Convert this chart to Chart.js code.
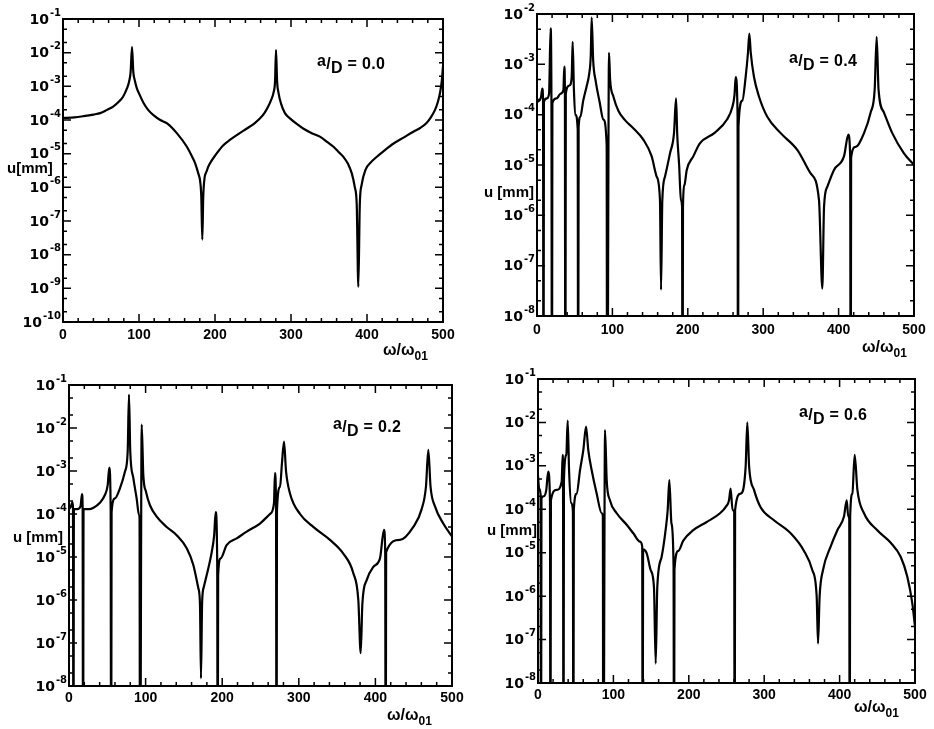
<!DOCTYPE html>
<html>
<head>
<meta charset="utf-8">
<title>Frequency response u(ω/ω01) for a/D = 0.0, 0.2, 0.4, 0.6</title>
<script src="https://cdn.jsdelivr.net/npm/chart.js@4.4.1/dist/chart.umd.min.js"></script>
<style>
  html, body { margin: 0; padding: 0; background: #fff; }
  #page { position: relative; width: 934px; height: 729px; overflow: hidden; background: #fff; }
  #page canvas { position: absolute; }
  .lab { position: absolute; font-family: "Liberation Sans", Arial, sans-serif; font-weight: bold;
         color: #000; white-space: nowrap; line-height: 1; }
  .yt { font-size: 15px; }
  .ann { font-size: 16px; letter-spacing: 0.3px; }
  .ann .fa { position: relative; top: -3px; }
  .ann .fd { position: relative; top: 4px; }
  .xt { font-size: 16px; }
  .xt .sub { font-size: 12px; position: relative; top: 5px; }
</style>
</head>
<body>
<div id="page">
  <canvas id="p00" width="467" height="365" style="left:0px;top:0px"></canvas>
  <canvas id="p04" width="467" height="365" style="left:467px;top:0px"></canvas>
  <canvas id="p02" width="480" height="364" style="left:0px;top:365px"></canvas>
  <canvas id="p06" width="467" height="364" style="left:467px;top:365px"></canvas>

  <div class="lab yt" style="left:7px;top:160px">u[mm]</div>
  <div class="lab yt" style="left:484px;top:184px">u [mm]</div>
  <div class="lab yt" style="left:13px;top:529px">u [mm]</div>
  <div class="lab yt" style="left:487px;top:522px">u [mm]</div>

  <div class="lab ann" style="left:317px;top:56px"><span class="fa">a</span>/<span class="fd">D</span> = 0.0</div>
  <div class="lab ann" style="left:789px;top:53px"><span class="fa">a</span>/<span class="fd">D</span> = 0.4</div>
  <div class="lab ann" style="left:333px;top:419px"><span class="fa">a</span>/<span class="fd">D</span> = 0.2</div>
  <div class="lab ann" style="left:799px;top:407px"><span class="fa">a</span>/<span class="fd">D</span> = 0.6</div>

  <div class="lab xt" style="left:383px;top:342px">ω/ω<span class="sub">01</span></div>
  <div class="lab xt" style="left:862px;top:339px">ω/ω<span class="sub">01</span></div>
  <div class="lab xt" style="left:387px;top:707px">ω/ω<span class="sub">01</span></div>
  <div class="lab xt" style="left:854px;top:699px">ω/ω<span class="sub">01</span></div>
</div>

<script>
// ---- axis ticks ----
const xTicks = [0, 100, 200, 300, 400, 500];
const decades00 = [-10, -9, -8, -7, -6, -5, -4, -3, -2, -1];
const decades04 = [-8, -7, -6, -5, -4, -3, -2];
const decades02 = [-8, -7, -6, -5, -4, -3, -2, -1];
const decades06 = [-8, -7, -6, -5, -4, -3, -2, -1];

// ---- a/D = 0.0 : frequency ratio and amplitude u [mm] ----
const omega00 = [0, 15, 27, 40, 49, 58, 66, 74, 79, 84,
  87, 89, 90.8, 92.5, 94.5, 97, 101, 106, 112, 119,
  128, 137, 150, 163, 170, 174, 178, 180.5, 182, 183.3,
  184.5, 186, 189, 192, 202, 210, 220, 232, 242, 252,
  259, 265, 270, 274, 277, 279, 280.3, 281.7, 283.5, 287,
  292, 299, 308, 316, 328, 338, 348, 356, 363, 369,
  375, 380, 384, 386.5, 388.6, 390.5, 393, 398, 405, 413,
  424, 435, 448, 461, 470, 478, 484, 489.5, 493, 496,
  498.5, 500];
const u00 = [1.15e-4, 1.2e-4, 1.3e-4, 1.45e-4, 1.6e-4, 2.0e-4, 2.5e-4, 3.6e-4, 4.9e-4, 8.5e-4,
  1.4e-3, 2.7e-3, 1.5e-2, 2.7e-3, 1.5e-3, 9e-4, 5.5e-4, 3.2e-4, 2e-4, 1.4e-4,
  1e-4, 7.9e-5, 4e-5, 1.6e-5, 8e-6, 5.1e-6, 2.6e-6, 1.5e-6, 5e-7, 2.8e-8,
  5e-7, 1.7e-6, 3e-6, 4.5e-6, 1e-5, 1.7e-5, 2.6e-5, 4e-5, 5.6e-5, 8e-5,
  1.1e-4, 1.6e-4, 2.5e-4, 4e-4, 6.5e-4, 1.4e-3, 1.2e-2, 1.4e-3, 6.5e-4, 3e-4,
  1.6e-4, 1.1e-4, 7.5e-5, 5.6e-5, 4e-5, 3.2e-5, 2.2e-5, 1.6e-5, 1.1e-5, 8e-6,
  5e-6, 2.6e-6, 1e-6, 3e-7, 1.1e-9, 3e-7, 1.2e-6, 3.3e-6, 5.5e-6, 8.1e-6,
  1.3e-5, 2e-5, 3e-5, 4.5e-5, 5.8e-5, 8e-5, 1.2e-4, 2e-4, 3.3e-4, 6.2e-4,
  1.5e-3, 4e-3];

// ---- a/D = 0.4 (1e-12 marks a drop to zero amplitude) ----
const omega04 = [0, 3, 5.5, 7, 8, 8.6, 9.2, 13, 16, 18,
  19.2, 19.8, 20.4, 26, 31, 35, 36.2, 37, 37.6, 38.2,
  43, 46, 47.3, 49, 51, 54, 54.6, 55.2, 57.5, 61.3,
  65.7, 69.3, 71.3, 72.5, 74.5, 78, 83, 88, 92.4, 93,
  95.5, 97, 101.3, 107.9, 116.7, 127.7, 141, 152, 158.7, 163.1,
  164.5, 166.2, 169.8, 176.4, 181.7, 184.4, 186, 188.5, 190.9, 192.4,
  193, 193.6, 195.5, 198.6, 207.4, 216, 236, 252, 259, 262,
  263.5, 266, 266.6, 267.2, 272.3, 276.7, 279.8, 281.6, 283.5, 287.8,
  294.4, 305.4, 323.2, 345.2, 362.9, 374, 378.4, 380.7, 385.1, 393.9,
  407.2, 412.9, 415.4, 416, 416.6, 422.6, 433.7, 442.5, 447.8, 450.5,
  453, 460.2, 471.2, 486.7, 500];
const u04 = [1.8e-4, 1.9e-4, 2.3e-4, 3.3e-4, 2e-4, 1e-12, 1.8e-4, 2.1e-4, 2.6e-4, 5.2e-3,
  1.2e-4, 1e-12, 1.7e-4, 2.1e-4, 2.6e-4, 3.1e-4, 9e-4, 3e-4, 1e-12, 2.6e-4,
  3.8e-4, 5.6e-4, 2.8e-3, 3e-4, 1e-4, 5e-5, 1e-12, 5.5e-5, 9.1e-5, 1.9e-4,
  3.6e-4, 6.6e-4, 1.5e-3, 8.5e-3, 1.2e-3, 4.5e-4, 1.8e-4, 8e-5, 2.5e-5, 1e-12,
  1.7e-3, 4.9e-4, 2.3e-4, 1.2e-4, 7.8e-5, 5.4e-5, 3.2e-5, 1.5e-5, 5.9e-6, 2e-6,
  3.3e-8, 2e-6, 5.9e-6, 1.7e-5, 4.3e-5, 2.1e-4, 4e-5, 1e-5, 2e-6, 1.5e-6,
  1e-12, 1.5e-6, 4e-6, 8e-6, 1.5e-5, 2.7e-5, 4.4e-5, 8e-5, 1.4e-4, 2.5e-4,
  5.6e-4, 1e-4, 1e-12, 5.8e-5, 1.9e-4, 5.6e-4, 1.7e-3, 4.1e-3, 1.7e-3, 5.6e-4,
  2.3e-4, 9.1e-5, 4.3e-5, 2e-5, 6.8e-6, 2e-6, 3.5e-8, 1.5e-6, 3.7e-6, 8e-6,
  1.5e-5, 4e-5, 1.4e-5, 1e-12, 1.4e-5, 2.3e-5, 4.3e-5, 1.1e-4, 3.1e-4, 3.5e-3,
  3.1e-4, 1.1e-4, 4.3e-5, 1.7e-5, 1e-5];

// ---- a/D = 0.2 ----
const omega02 = [0, 2.5, 4.5, 5.2, 5.8, 6.4, 11, 15, 17, 17.8,
  18.4, 19, 26, 32, 40, 47, 50.5, 52.6, 54.4, 55,
  55.6, 60, 66.6, 73, 76.6, 78.3, 80, 84, 88.3, 91.4,
  92.1, 92.7, 94.9, 97, 100.5, 105.7, 114.5, 127.5, 140.6, 153.7,
  162.3, 168.8, 171, 172.3, 173.8, 176, 179.8, 186.3, 189.5, 191.5,
  193.5, 194.1, 194.7, 198, 205.8, 218.9, 232, 249.3, 262.4, 267.6,
  268.9, 270.3, 270.9, 271.5, 275.5, 278, 280.7, 283.3, 288.5, 301.6,
  318.9, 340.7, 358.1, 371.2, 377.7, 380.8, 383, 388.6, 397.3, 406,
  411.2, 412.8, 413.4, 414, 432.1, 449.5, 460.4, 466, 469.1, 472,
  477.8, 488.6, 500];
const u02 = [1.3e-4, 1.5e-4, 1.9e-4, 1.4e-4, 1e-12, 1.3e-4, 1.3e-4, 1.5e-4, 2.9e-4, 1.4e-4,
  1e-12, 1.3e-4, 1.3e-4, 1.4e-4, 1.8e-4, 2.8e-4, 4.7e-4, 1.2e-3, 1.2e-4, 1e-12,
  1.1e-4, 2.3e-4, 4e-4, 9.6e-4, 2.8e-3, 6e-2, 2.8e-3, 6.8e-4, 2.3e-4, 9.5e-5,
  8e-5, 1e-12, 1.2e-2, 8.1e-4, 3.3e-4, 1.6e-4, 8.7e-5, 5e-5, 3.2e-5, 1.6e-5,
  6.5e-6, 1.9e-6, 8e-7, 1.5e-8, 9e-7, 2e-6, 3.8e-6, 1.3e-5, 3.2e-5, 1.1e-4,
  7e-6, 1e-12, 3.8e-6, 9.3e-6, 1.9e-5, 2.7e-5, 3.9e-5, 6e-5, 1e-4, 1.8e-4,
  8.9e-4, 1.4e-4, 1e-12, 1.2e-4, 4.3e-4, 1.5e-3, 4.8e-3, 1e-3, 3e-4, 1e-4,
  5e-5, 2.5e-5, 1.2e-5, 4.2e-6, 1e-6, 5.8e-8, 8.3e-7, 2.9e-6, 5.9e-6, 9.3e-6,
  4.3e-5, 1.3e-5, 1e-12, 1.3e-5, 2.5e-5, 5e-5, 1.3e-4, 4.3e-4, 3.1e-3, 4.3e-4,
  1.5e-4, 6e-5, 3e-5];

// ---- a/D = 0.6 ----
const omega06 = [0, 1.5, 3.4, 4, 4.6, 8, 11, 13.5, 15.9, 16.5,
  17.1, 24.8, 31.4, 32.7, 33.2, 33.8, 34.4, 37.5, 39.4, 41.2,
  44, 46.3, 46.9, 47.5, 51.3, 55.7, 60.1, 63.7, 66.7, 71.2,
  77.8, 84.5, 86, 86.6, 88.9, 91.1, 95.5, 104.4, 117.6, 126.4,
  135.3, 138.2, 138.8, 139.4, 144.1, 149.4, 153.8, 156.1, 158.2, 164,
  169.8, 172, 174.2, 177, 179.8, 180.4, 181, 186.1, 192.7, 205.9,
  223.7, 241.4, 250, 253.3, 255.5, 258, 260.2, 260.8, 261.4, 268.8,
  275.4, 277.6, 280, 286.5, 295.4, 313, 335.1, 352.8, 363.8, 369.6,
  371.4, 373.5, 378, 388.2, 397, 405.8, 409.4, 411.5, 412.8, 413.4,
  414, 416.9, 420, 423.6, 432.4, 450, 467.8, 481, 489.8, 496.4,
  500];
const u06 = [6e-4, 3e-4, 2.2e-4, 1e-12, 1.8e-4, 2e-4, 2.8e-4, 7.4e-4, 1.5e-4, 1e-12,
  1.6e-4, 2.8e-4, 4.3e-4, 1.8e-3, 4e-4, 1e-12, 4.7e-4, 1.8e-3, 1.1e-2, 7.9e-4,
  1.4e-4, 9e-5, 1e-12, 9.6e-5, 2.3e-4, 7.9e-4, 2.3e-3, 8e-3, 2.3e-3, 7.9e-4,
  2.3e-4, 8.1e-5, 7e-5, 1e-12, 6.7e-3, 4.7e-4, 1.6e-4, 8.1e-5, 4.4e-5, 2.8e-5,
  1.8e-5, 1.4e-5, 1e-12, 1.2e-5, 9.8e-6, 4e-6, 1.6e-6, 2.8e-8, 1.6e-6, 8.1e-6,
  4e-5, 9.6e-5, 4.7e-4, 4.7e-5, 4.8e-6, 1e-12, 4e-6, 1.1e-5, 1.9e-5, 3.3e-5,
  5.1e-5, 8.1e-5, 1.2e-4, 1.6e-4, 3e-4, 9.6e-5, 9e-5, 1e-12, 9.6e-5, 2.3e-4,
  9.6e-4, 1e-2, 9.6e-4, 2.8e-4, 1.1e-4, 5.6e-5, 2.8e-5, 1.1e-5, 4e-6, 9.8e-7,
  8.1e-8, 9.8e-7, 4e-6, 1.4e-5, 3.3e-5, 6.8e-5, 1.6e-4, 6.8e-5, 6e-5, 1e-12,
  6.8e-5, 2.3e-4, 1.8e-3, 2.8e-4, 8.1e-5, 3.3e-5, 1.7e-5, 8.1e-6, 2.8e-6, 6.9e-7,
  2e-7];

// ---- drawing ----
const xTickFont = { family: '"Liberation Sans", Arial, sans-serif', weight: 'bold', size: 14 };
const BASE_FONT = 'bold 14px "DejaVu Sans", sans-serif';
const EXP_FONT = 'bold 10px "DejaVu Sans", sans-serif';
const pow10 = e => Number('1e' + e);

// closed frame with inward ticks on all four sides, and 10^n labels on the log axis
const frameTicks = {
  id: 'frameTicks',
  afterDatasetsDraw(chart, args, opts) {
    const { ctx, chartArea: a, scales: { x, y } } = chart;
    ctx.save();
    ctx.strokeStyle = '#000';
    ctx.lineWidth = 1.5;
    ctx.beginPath();
    for (let v = 0; v <= 500; v += 20) {
      const px = x.getPixelForValue(v);
      const len = v % 100 === 0 ? 8 : 4;
      ctx.moveTo(px, a.bottom); ctx.lineTo(px, a.bottom - len);
      ctx.moveTo(px, a.top); ctx.lineTo(px, a.top + len);
    }
    const exps = opts.decades;
    exps.forEach((e, i) => {
      const py = y.getPixelForValue(pow10(e));
      ctx.moveTo(a.left, py); ctx.lineTo(a.left + 8, py);
      ctx.moveTo(a.right, py); ctx.lineTo(a.right - 8, py);
      if (i < exps.length - 1) {
        [2, 5].forEach(m => {
          const pm = y.getPixelForValue(m * pow10(e));
          ctx.moveTo(a.left, pm); ctx.lineTo(a.left + 4, pm);
          ctx.moveTo(a.right, pm); ctx.lineTo(a.right - 4, pm);
        });
      }
    });
    ctx.stroke();
    ctx.lineWidth = 2;
    ctx.strokeRect(a.left, a.top, a.right - a.left, a.bottom - a.top);

    // decade labels: base "10" with a raised exponent
    ctx.fillStyle = '#000';
    ctx.textAlign = 'right';
    ctx.textBaseline = 'middle';
    exps.forEach(e => {
      const py = y.getPixelForValue(pow10(e));
      const expText = String(e);
      ctx.font = EXP_FONT;
      const w = ctx.measureText(expText).width;
      const right = a.left - 2;
      ctx.fillText(expText, right, py - 6);
      ctx.font = BASE_FONT;
      ctx.fillText('10', right - w - 1, py + 1);
    });
    ctx.restore();
  }
};

function makePanel(id, omega, u, decades, box) {
  const points = omega.map((w, i) => ({ x: w, y: u[i] }));
  return new Chart(document.getElementById(id), {
    type: 'line',
    data: {
      datasets: [{
        data: points,
        borderColor: '#000',
        borderWidth: 2.2,
        pointRadius: 0,
        fill: false,
        cubicInterpolationMode: 'monotone',
        clip: 1
      }]
    },
    options: {
      responsive: false,
      animation: false,
      devicePixelRatio: 1,
      events: [],
      layout: { padding: { left: 0, top: box.top, right: box.right, bottom: 0 } },
      plugins: {
        legend: { display: false },
        tooltip: { enabled: false },
        frameTicks: { decades: decades }
      },
      scales: {
        x: {
          type: 'linear', min: 0, max: 500,
          grid: { display: false, drawTicks: false },
          border: { display: false },
          afterBuildTicks: s => { s.ticks = xTicks.map(v => ({ value: v })); },
          afterFit: s => { s.height = box.xh; },
          ticks: { padding: box.xpad, color: '#000', font: xTickFont, maxRotation: 0, autoSkip: false }
        },
        y: {
          type: 'logarithmic',
          min: pow10(decades[0]), max: pow10(decades[decades.length - 1]),
          grid: { display: false, drawTicks: false },
          border: { display: false },
          afterBuildTicks: s => { s.ticks = decades.map(e => ({ value: pow10(e) })); },
          afterFit: s => { s.width = box.yw; },
          ticks: { display: false }
        }
      }
    },
    plugins: [frameTicks]
  });
}

makePanel('p00', omega00, u00, decades00, { yw: 63, top: 19, right: 24, xh: 43, xpad: 5 });
makePanel('p04', omega04, u04, decades04, { yw: 70, top: 14, right: 20, xh: 49, xpad: 6 });
makePanel('p02', omega02, u02, decades02, { yw: 69, top: 20, right: 28, xh: 43, xpad: 4 });
makePanel('p06', omega06, u06, decades06, { yw: 71, top: 14, right: 19, xh: 46, xpad: 4 });
</script>
</body>
</html>
